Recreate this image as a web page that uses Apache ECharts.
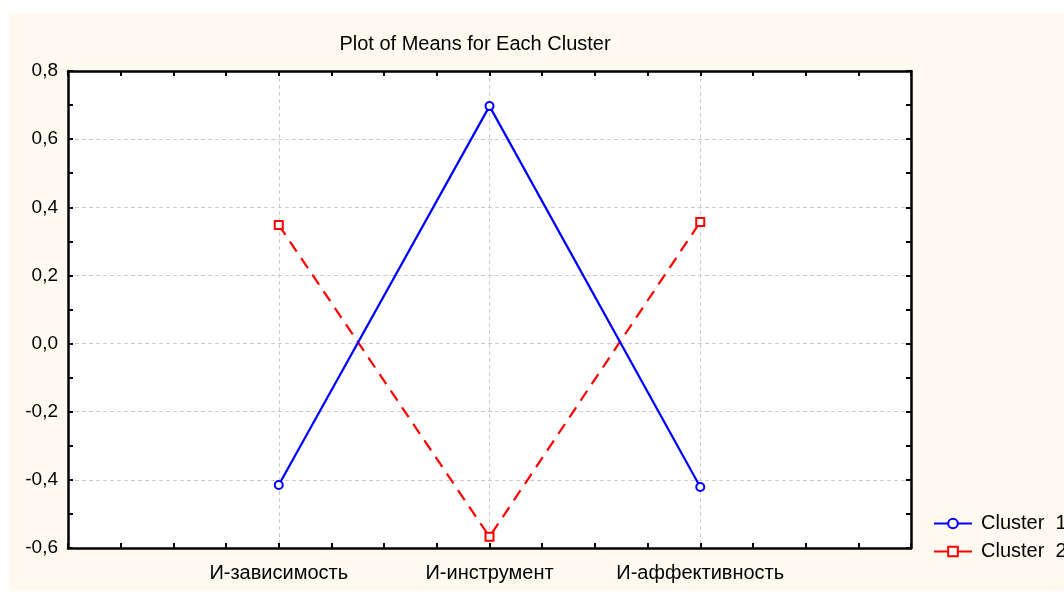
<!DOCTYPE html>
<html>
<head>
<meta charset="utf-8">
<script src="https://cdn.jsdelivr.net/npm/echarts@6/dist/echarts.min.js"></script>
<style>
  html, body { margin: 0; padding: 0; background: #ffffff; }
  #main { width: 1064px; height: 592px; }
</style>
</head>
<body>
<div id="main"></div>
<script>
// категории и средние значения по кластерам
var categories = ['И-зависимость', 'И-инструмент', 'И-аффективность'];
var cluster1 = [-0.415, 0.697, -0.421];
var cluster2 = [0.348, -0.567, 0.357];
var seriesNames = ['Cluster  1', 'Cluster  2'];
var yTicks = [-0.6, -0.4, -0.2, 0.0, 0.2, 0.4, 0.6, 0.8];

var FONT = 'Liberation Sans, Arial, sans-serif';

// позиция категории на оси x: 1, 2, 3
function toPoints(vals) {
  return vals.map(function (v, i) { return [i + 1, v]; });
}

var myChart = echarts.init(document.getElementById('main'));

var frameTick = { show: true, inside: true, length: 5, lineStyle: { color: '#000', width: 2 } };
var frameMinor = { show: true, length: 5, lineStyle: { color: '#000', width: 2 } };
var frameLine = { show: true, onZero: false, lineStyle: { color: '#000', width: 2.5 } };
var gridLine = { show: true, lineStyle: { color: '#cccccc', type: [4, 3], width: 1 } };

myChart.setOption({
  animation: false,
  backgroundColor: '#ffffff',
  graphic: [{
    type: 'rect', z: -10, silent: true,
    shape: { x: 9, y: 13, width: 1055, height: 578 },
    style: { fill: '#fffaf0' }
  }],
  title: {
    text: 'Plot of Means for Each Cluster',
    left: 470, top: 29, textAlign: 'center',
    textStyle: { fontFamily: FONT, fontSize: 20, fontWeight: 'normal', color: '#000' }
  },
  legend: {
    orient: 'vertical',
    left: 928, top: 508,
    itemWidth: 38, itemHeight: 12, itemGap: 7,
    data: seriesNames,
    lineStyle: { type: 'solid' },
    textStyle: { fontFamily: FONT, fontSize: 20, lineHeight: 21, color: '#000', padding: [0, 0, 0, 4] }
  },
  grid: {
    left: 68, top: 71, right: 153, bottom: 44,
    show: true, backgroundColor: '#ffffff', borderWidth: 0
  },
  xAxis: [{
    type: 'value', min: 0, max: 4, interval: 1, position: 'bottom',
    axisLine: frameLine,
    axisTick: frameTick,
    minorTick: Object.assign({ splitNumber: 4 }, frameMinor),
    splitLine: gridLine,
    axisLabel: {
      fontFamily: FONT, fontSize: 20, color: '#000', margin: 15,
      formatter: function (v) { return categories[v - 1] || ''; }
    }
  }, {
    type: 'value', min: 0, max: 4, interval: 1, position: 'top',
    axisLine: frameLine,
    axisTick: frameTick,
    minorTick: Object.assign({ splitNumber: 4 }, frameMinor),
    splitLine: { show: false },
    axisLabel: { show: false }
  }],
  yAxis: [{
    type: 'value', min: yTicks[0], max: yTicks[yTicks.length - 1], interval: 0.2,
    position: 'left',
    axisLine: frameLine,
    axisTick: frameTick,
    minorTick: Object.assign({ splitNumber: 2 }, frameMinor),
    splitLine: gridLine,
    axisLabel: {
      fontFamily: FONT, fontSize: 19, color: '#000', margin: 10,
      formatter: function (v) { return v.toFixed(1).replace('.', ','); }
    }
  }, {
    type: 'value', min: yTicks[0], max: yTicks[yTicks.length - 1], interval: 0.2,
    position: 'right',
    axisLine: frameLine,
    axisTick: frameTick,
    minorTick: Object.assign({ splitNumber: 2 }, frameMinor),
    splitLine: { show: false },
    axisLabel: { show: false }
  }],
  series: [{
    name: seriesNames[0],
    type: 'line',
    data: toPoints(cluster1),
    symbol: 'emptyCircle', symbolSize: 8,
    lineStyle: { color: '#0000ff', width: 2.2 },
    itemStyle: { color: '#0000ff', borderWidth: 1.2 },
    z: 5
  }, {
    name: seriesNames[1],
    type: 'line',
    data: toPoints(cluster2),
    symbol: 'emptyRect', symbolSize: 8,
    lineStyle: { color: '#ff0000', width: 2.2, type: [12, 8] },
    itemStyle: { color: '#ff0000', borderWidth: 1.2 },
    z: 4
  }]
});
</script>
</body>
</html>
